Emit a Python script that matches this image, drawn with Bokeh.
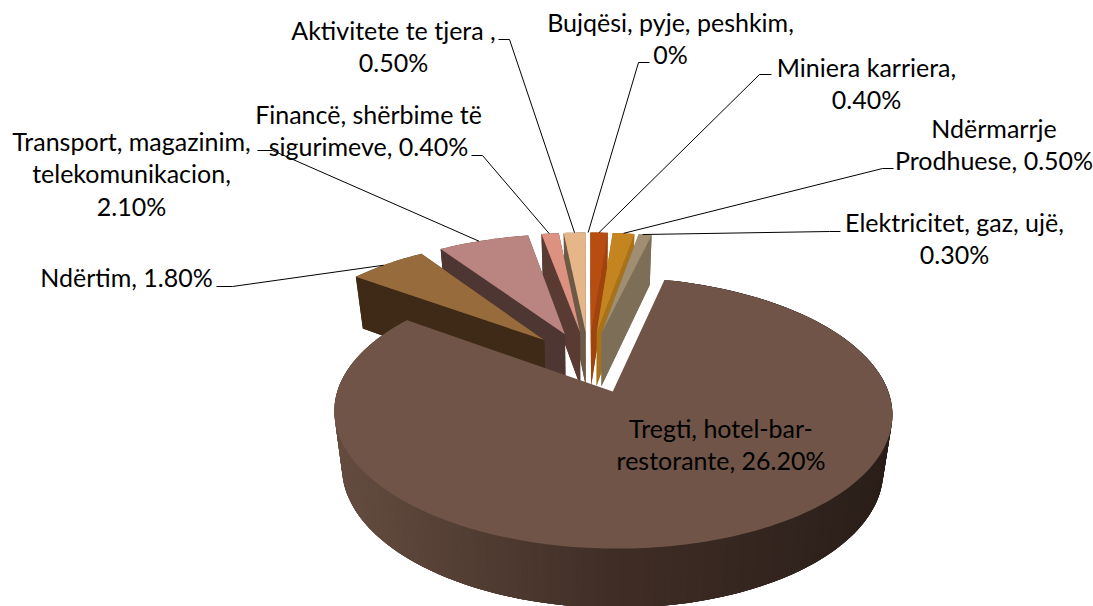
import math
from bokeh.plotting import figure
from bokeh.models import Range1d, ColumnDataSource
from bokeh.core.properties import value
from bokeh.embed import file_html
from bokeh.resources import INLINE

# ---- data ----
categories = ["Bujqësi, pyje, peshkim", "Miniera karriera", "Ndërmarrje Prodhuese",
              "Elektricitet, gaz, ujë", "Tregti, hotel-bar-restorante", "Ndërtim",
              "Transport, magazinim, telekomunikacion", "Financë, shërbime të sigurimeve",
              "Aktivitete te tjera"]
values = [0.0, 0.4, 0.5, 0.3, 26.2, 1.8, 2.1, 0.4, 0.5]
top_colors = ["#d0d0d0", "#b84d12", "#c4841f", "#a08d72", "#6f5447", "#986b3c", "#ba8480", "#dc9181", "#e6b588"]
side_colors = ["#a0a0a0", "#a0440f", "#a8721b", "#7d6e57", "#402e26", "#3f2a17", "#4e3633", "#5a3b34", "#6b5a46"]
label_lines = [["Bujqësi, pyje, peshkim,", "0%"],
               ["Miniera karriera,", "0.40%"],
               ["Ndërmarrje", "Prodhuese, 0.50%"],
               ["Elektricitet, gaz, ujë,", "0.30%"],
               ["Tregti, hotel-bar-", "restorante, 26.20%"],
               ["Ndërtim, 1.80%"],
               ["Transport, magazinim,", "telekomunikacion,", "2.10%"],
               ["Financë, shërbime të", "sigurimeve, 0.40%"],
               ["Aktivitete te tjera ,", "0.50%"]]

# ---- layout ----
label_xy = [(670, 21), (866, 66), (993.5, 127), (954, 221), (720.5, 427), (126, 276), (131, 140), (368, 113), (393, 29)]
line_gap = 32.7
leader_elbow = [[(649, 62), (638, 62)], [(771, 74), (759, 74)], [(893, 168), (882, 168)],
                [(840, 231), (829, 231)], None, [(216, 286), (232, 286)], [(257, 150), (272, 150)],
                [(471, 155), (482, 155)], [(498, 39), (509, 39)]]
leader_frac = [0.0, 0.5, 0.5, 0.3, None, 0.45, 0.45, 0.45, 0.5]
START_DEG = -0.15
X0, Y0, R, Q, K = 588.4, 361.2, 265.7, 123.0, 0.152
EXPLODE = 0.25
DEPTH, DEPTH_SLOPE, BOTTOM_SCALE = 54.5, 0.07, 0.97
WALL_STOPS = [(334, (0x64, 0x4c, 0x40)), (610, (0x40, 0x2e, 0x26)), (892, (0x2a, 0x1e, 0x19))]
FONT = "Lato"
FONT_SIZE = "25px"


def project(x, z):
    s = 1.0 / (1.0 - K * z)
    return X0 + R * x * s, Y0 + Q * z * s


def lower(x, z):
    px, py = project(x, z)
    return X0 + (px - X0) * BOTTOM_SCALE, py + DEPTH * (1 + DEPTH_SLOPE * z)


def wall_color(px):
    for (a, ca), (b, cb) in zip(WALL_STOPS, WALL_STOPS[1:]):
        if px <= b:
            t = max(0.0, (px - a) / (b - a))
            return "#%02x%02x%02x" % tuple(round(u + (v - u) * t) for u, v in zip(ca, cb))
    return "#%02x%02x%02x" % WALL_STOPS[-1][1]


total = sum(values)
slices = []
angle = START_DEG
for i, v in enumerate(values):
    span = v / total * 360.0
    slices.append((i, angle, angle + span))
    angle += span

xs, ys, fills = [], [], []


def add(poly_xy, color):
    xs.append([q[0] for q in poly_xy])
    ys.append([q[1] for q in poly_xy])
    fills.append(color)


def slice_geometry(a0, a1):
    mid = math.radians((a0 + a1) / 2)
    ex, ez = EXPLODE * math.sin(mid), -EXPLODE * math.cos(mid)
    n = max(2, int((a1 - a0) / 1.0) + 2)
    rim = []
    for j in range(n):
        a = math.radians(a0 + (a1 - a0) * j / (n - 1))
        rim.append((ex + math.sin(a), ez - math.cos(a)))
    return (ex, ez), rim


order = sorted([s for s in slices if s[2] > s[1]],
               key=lambda s: -math.cos(math.radians((s[1] + s[2]) / 2)))
for i, a0, a1 in order:
    apex, rim = slice_geometry(a0, a1)
    side = side_colors[i]
    ring = [apex] + rim
    add([lower(*q) for q in ring], side)
    if a1 - a0 > 180:
        # outer wall shaded from left to right; each strip overlaps the next so no seams show
        for j, q0 in enumerate(rim[:-1]):
            q1 = rim[min(j + 3, len(rim) - 1)]
            quad = [project(*q0), project(*q1), lower(*q1), lower(*q0)]
            add(quad, wall_color((project(*q0)[0] + project(*rim[j + 1])[0]) / 2))
    else:
        add([project(*apex), project(*rim[0]), lower(*rim[0]), lower(*apex)], side)
        add([project(*apex), project(*rim[-1]), lower(*rim[-1]), lower(*apex)], side)
        for q0, q1 in zip(rim, rim[1:]):
            add([project(*q0), project(*q1), lower(*q1), lower(*q0)], side)
    add([project(*q) for q in ring], top_colors[i])

p = figure(width=1093, height=606, x_range=Range1d(0, 1093), y_range=Range1d(606, 0),
           output_backend="svg", toolbar_location=None, min_border=0,
           background_fill_color="white", border_fill_color="white", outline_line_color=None)
p.axis.visible = False
p.grid.visible = False
p.patches(xs="xs", ys="ys", fill_color="fills", line_color=None,
          source=ColumnDataSource(dict(xs=xs, ys=ys, fills=fills)))

# leaders: elbow then the middle of the slice's outer edge
lx, ly = [], []
for (i, a0, a1), elbow in zip(slices, leader_elbow):
    if elbow is None:
        continue
    a = a0 + (a1 - a0) * leader_frac[i]
    apex, _ = slice_geometry(a0, a1)
    r = math.radians(a)
    end = project(apex[0] + math.sin(r), apex[1] - math.cos(r))
    lx.append([elbow[0][0], elbow[1][0], end[0]])
    ly.append([elbow[0][1], elbow[1][1], end[1]])
p.multi_line(lx, ly, line_color="black", line_width=1)

tx, ty, tt = [], [], []
for lines, (cx, cy) in zip(label_lines, label_xy):
    for j, line in enumerate(lines):
        tx.append(cx)
        ty.append(cy + j * line_gap)
        tt.append(line)
p.text(tx, ty, text=tt, text_font=value(FONT), text_font_size=FONT_SIZE, text_color="black",
       text_align="center", text_baseline="middle")

open("out.html", "w").write(file_html(p, INLINE))
